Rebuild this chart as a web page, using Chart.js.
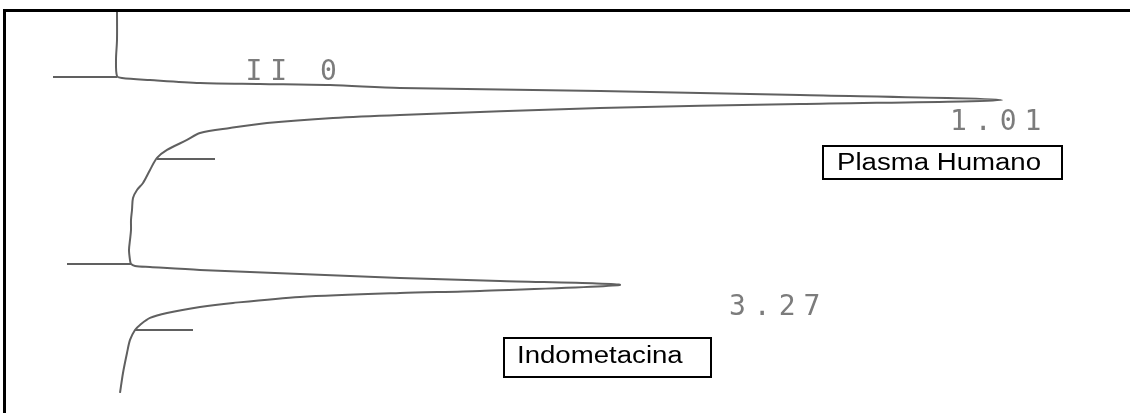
<!DOCTYPE html>
<html><head><meta charset="utf-8">
<script src="https://cdn.jsdelivr.net/npm/chart.js@4.4.1/dist/chart.umd.min.js"></script>
<style>html,body{margin:0;padding:0;background:#fff;}#wrap{position:relative;width:1130px;height:413px;}</style>
</head><body><div id="wrap"><canvas id="c"></canvas></div>
<script>
// Retention time (min) and detector signal (arbitrary units) of the chromatogram trace
const traceTime = [-0.077, 0.277, 0.521, 0.717, 0.741, 0.766, 0.802, 0.814, 0.827, 0.863, 0.900, 0.949, 1.010,
  1.059, 1.108, 1.193, 1.230, 1.291, 1.352, 1.413, 1.498, 1.620, 1.718, 1.864, 2.023, 2.109, 2.206, 2.353, 2.475,
  2.597, 2.719, 2.842, 2.964, 3.012, 3.037, 3.049, 3.085, 3.134, 3.183, 3.220, 3.268,
  3.342, 3.366, 3.415, 3.488, 3.537, 3.610, 3.671, 3.757, 3.818, 3.940, 4.099, 4.343, 4.587];
const traceSignal = [0.0, 0.0, -0.1, 0.0, 0.5, 3.3, 8.3, 14.3, 21.3, 28.3, 48.3, 68.3, 88.5,
  68.3, 48.3, 28.3, 21.6, 15.0, 11.3, 8.3, 7.0, 5.0, 4.0, 3.3, 2.6, 2.0, 1.6, 1.5, 1.4,
  1.4, 1.3, 1.2, 1.3, 1.4, 1.8, 3.3, 8.3, 18.3, 28.3, 38.3, 50.3,
  36.3, 28.3, 18.3, 11.6, 8.3, 5.0, 3.3, 2.3, 1.8, 1.3, 1.0, 0.6, 0.3];
// Integration / event tick marks
const markerTime = [0.729, 1.730, 3.012, 3.818];
const markerStart = [-6.4, 4.0, -5.0, 1.8];
const markerEnd = [0.0, 9.8, 1.4, 7.6];
// Peaks
const peakTimes = [1.01, 3.27];
const peakNames = ['Plasma Humano', 'Indometacina'];
const headerText = 'II 0';

const tracePts = traceTime.map((t, i) => ({x: traceSignal[i], y: t}));
const datasets = [{
  data: tracePts, showLine: true, pointRadius: 0, borderColor: '#606060', borderWidth: 2, tension: 0.3
}];
markerTime.forEach((t, i) => datasets.push({
  data: [{x: markerStart[i], y: t}, {x: markerEnd[i], y: t}],
  showLine: true, pointRadius: 0, borderColor: '#606060', borderWidth: 2
}));

// label placement (layout only)
const rtLabelPos = [{x: 83.3, y: 1.376}, {x: 61.2, y: 3.635}];
const headerPos = {x: 12.85, y: 0.766};
const boxPos = [{x: 70.5, y: 1.560, w: 241, h: 35, tx: 15, ty: 25}, {x: 38.6, y: 3.904, w: 209, h: 41, tx: 14, ty: 26}];

const overlay = {
  id: 'overlay',
  afterDraw(chart) {
    const {ctx, scales: {x, y}} = chart;
    ctx.save();
    // frame
    ctx.strokeStyle = '#000'; ctx.lineWidth = 3;
    ctx.beginPath(); ctx.moveTo(4.5, 413); ctx.lineTo(4.5, 10.5); ctx.lineTo(1130, 10.5); ctx.stroke();
    // printer text
    ctx.fillStyle = '#7c7c7c';
    ctx.font = '28px "DejaVu Sans Mono"';
    ctx.letterSpacing = '8px';
    ctx.textBaseline = 'alphabetic';
    ctx.fillText(headerText, x.getPixelForValue(headerPos.x), y.getPixelForValue(headerPos.y));
    peakTimes.forEach((rt, i) => {
      ctx.fillText(rt.toFixed(2), x.getPixelForValue(rtLabelPos[i].x), y.getPixelForValue(rtLabelPos[i].y));
    });
    ctx.letterSpacing = '0px';
    // name boxes
    peakNames.forEach((name, i) => {
      const b = boxPos[i];
      const px = Math.round(x.getPixelForValue(b.x)), py = Math.round(y.getPixelForValue(b.y));
      ctx.strokeStyle = '#000'; ctx.lineWidth = 2;
      ctx.strokeRect(px + 1, py + 1, b.w - 2, b.h - 2);
      ctx.save();
      ctx.fillStyle = '#000';
      ctx.font = '23px "Liberation Sans"';
      ctx.translate(px + b.tx, py + b.ty);
      ctx.scale(1.2, 1);
      ctx.fillText(name, 0, 0);
      ctx.restore();
    });
    ctx.restore();
  }
};

new Chart(document.getElementById('c'), {
  type: 'scatter',
  data: {datasets},
  options: {
    responsive: true, maintainAspectRatio: false, animation: false,
    layout: {padding: 0},
    plugins: {legend: {display: false}, tooltip: {enabled: false}},
    scales: {
      x: {type: 'linear', min: -11.7, max: 101.3, display: false},
      y: {type: 'linear', reverse: true, min: -0.211, max: 4.832, display: false}
    }
  },
  plugins: [overlay]
});
</script></body></html>
